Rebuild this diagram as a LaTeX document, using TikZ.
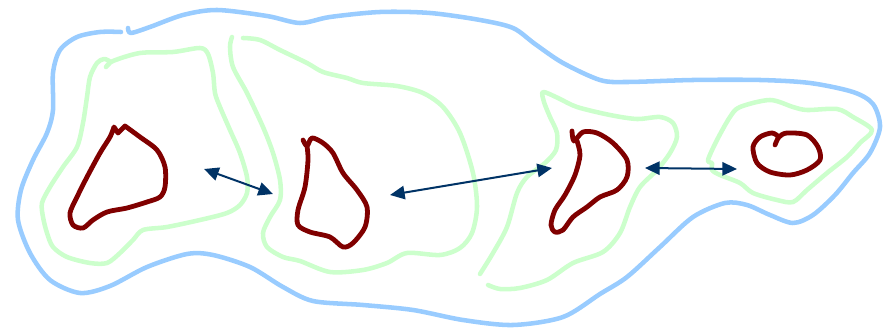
\documentclass[tikz,border=0pt]{standalone}
\usetikzlibrary{arrows.meta}

\definecolor{outerblue}{RGB}{153,204,255}
\definecolor{midgreen}{RGB}{204,255,204}
\definecolor{coremaroon}{RGB}{128,0,0}
\definecolor{linknavy}{RGB}{0,51,102}

\tikzset{every picture/.style={line width=0.75pt}}
\tikzset{
  outerline/.style={draw=outerblue, line width=3.4pt, line cap=round, line join=round},
  midline/.style={draw=midgreen, line width=3.4pt, line cap=round, line join=round},
  coreline/.style={draw=coremaroon, line width=3.6pt, line cap=round, line join=round},
  gaplink/.style={draw=linknavy, line width=1.5pt, {Triangle[length=11pt,width=10pt]}-{Triangle[length=11pt,width=10pt]}}
}

\begin{document}
\begin{tikzpicture}[x=0.75pt,y=0.75pt,yscale=-1,xscale=1]
\useasboundingbox (0,0) rectangle (890,331);

%Curve Lines [outer]
\draw [outerline] plot [smooth] coordinates {(128,28) (131,33) (150,27) (183,15) (217,10) (267,16) (300,23) (330,17) (380,12) (430,13) (480,20) (513,28) (535,44) (563,63) (600,80) (627,82) (693,80) (760,80) (810,83) (853,92) (873,104) (880,127) (870,153) (853,173) (835,195) (813,215) (793,223) (770,215) (747,205) (725,203) (693,217) (660,247) (627,277) (600,294) (563,317) (513,325) (463,320) (413,310) (363,305) (313,301) (283,287) (250,267) (213,255) (187,254) (147,267) (110,286) (80,293) (50,280) (30,253) (18,220) (21,190) (33,160) (47,133) (53,110) (53,73) (60,50) (77,37) (100,32) (121,32)};

%Curve Lines [middle, left]
\draw [midline] plot [smooth] coordinates {(106,67) (113,61) (140,53) (173,52) (200,48) (208,54) (213,73) (215,93) (220,107) (230,130) (240,153) (247,177) (247,193) (240,205) (227,213) (200,220) (167,227) (143,230) (133,240) (120,253) (107,263) (90,263) (67,257) (53,247) (47,233) (43,217) (42,203) (50,187) (63,167) (77,147) (83,123) (87,97) (90,77) (97,63) (104,59) (110,62) (106,67)};
%Curve Lines [middle, second]
\draw [midline] plot [smooth] coordinates {(243,38) (260,40) (280,50) (307,63) (323,72) (347,78) (363,83) (397,86) (423,93) (443,107) (460,133) (473,173) (477,207) (472,233) (460,248) (440,255) (407,253) (387,263) (363,270) (330,272) (300,261) (283,257) (267,247) (263,233) (270,217) (280,200) (280,180) (273,153) (263,127) (247,93) (233,67) (230,47) (232,37)};
%Curve Lines [middle, third]
\draw [midline] plot [smooth] coordinates {(488,285) (500,289) (520,288) (547,280) (573,263) (603,252) (620,233) (630,207) (640,187) (657,170) (670,153) (677,137) (673,123) (660,117) (637,119) (610,115) (577,107) (558,98) (543,92) (544,102) (550,117) (557,133) (556,150) (545,163) (527,177) (517,193) (507,227) (493,253) (480,274)};
%Curve Lines [middle, right]
\draw [midline] plot [smooth cycle] coordinates {(708,160) (717,140) (730,117) (740,107) (770,100) (793,107) (807,110) (837,109) (853,117) (872,130) (860,143) (847,157) (827,173) (807,190) (793,202) (777,200) (753,193) (740,183) (720,175) (712,170) (712,163)};

%Curve Lines [core 1]
\draw [coreline] plot [smooth] coordinates {(125,126) (140,137) (157,150) (165,167) (165,187) (160,197) (147,202) (127,208) (107,212) (93,220) (83,228) (73,225) (70,213) (77,197) (87,177) (100,153) (110,137) (114,127)} -- (118,133) -- (125,126);
%Curve Lines [core 2]
\draw [coreline] plot [smooth] coordinates {(303,140) (307,146) (312,138) (323,143) (333,153) (343,173) (357,190) (367,207) (365,227) (353,243) (343,247) (330,237) (310,232) (298,225) (298,210) (305,187) (308,160) (307,146)};
%Curve Lines [core 3]
\draw [coreline] plot [smooth] coordinates {(572,131) (574,141) (583,132) (597,133) (613,143) (627,160) (627,177) (617,190) (600,197) (587,207) (573,217) (563,230) (555,232) (551,225) (555,210) (565,195) (575,175) (580,155) (577,141)};
%Curve Lines [core 4]
\draw [coreline] plot [smooth] coordinates {(775,145) (779,137) (787,133) (807,135) (818,147) (820,160) (807,170) (790,175) (770,172) (757,163) (753,147) (760,137) (772,133) (779,137)};

%Straight Lines [links]
\coordinate (gap1a) at (204,169);
\coordinate (gap1b) at (273,194);
\coordinate (gap2a) at (390,195);
\coordinate (gap2b) at (552,168);
\coordinate (gap3a) at (645,168);
\coordinate (gap3b) at (737,169);
\draw [gaplink] (gap1a) -- (gap1b);
\draw [gaplink] (gap2a) -- (gap2b);
\draw [gaplink] (gap3a) -- (gap3b);

\end{tikzpicture}
\end{document}
